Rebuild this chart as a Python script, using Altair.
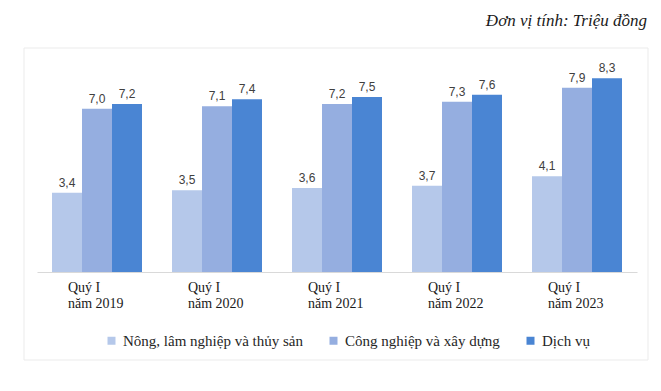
import altair as alt
import pandas as pd

periods = ["Quý I|năm 2019", "Quý I|năm 2020", "Quý I|năm 2021", "Quý I|năm 2022", "Quý I|năm 2023"]
series = ["Nông, lâm nghiệp và thủy sản", "Công nghiệp và xây dựng", "Dịch vụ"]
nong = [3.4, 3.5, 3.6, 3.7, 4.1]
cong = [7.0, 7.1, 7.2, 7.3, 7.9]
dichvu = [7.2, 7.4, 7.5, 7.6, 8.3]
unit_note = "Đơn vị tính: Triệu đồng"
colors = ["#b5c8ea", "#95aee0", "#4a85d3"]

SERIF = "Liberation Serif"

rows = []
for vals, s in zip([nong, cong, dichvu], series):
    for p, v in zip(periods, vals):
        rows.append({"period": p, "series": s, "value": v,
                     "label": f"{v:.1f}".replace(".", ",")})
df = pd.DataFrame(rows)
pdf = pd.DataFrame({"period": periods})

x = alt.X("period:N", sort=periods, title=None,
          scale=alt.Scale(paddingInner=0.25, paddingOuter=0.125),
          axis=alt.Axis(labels=False, ticks=False, domainColor="#d9d9d9"))
xo = alt.XOffset("series:N", sort=series, scale=alt.Scale(paddingInner=0, paddingOuter=0))
y = alt.Y("value:Q", scale=alt.Scale(domain=[0, 9]), axis=None)
color = alt.Color("series:N", sort=series,
                  scale=alt.Scale(domain=series, range=colors),
                  legend=alt.Legend(title=None, orient="none", direction="horizontal",
                                    legendX=67, legendY=271, symbolType="square",
                                    symbolSize=64, symbolStrokeWidth=0,
                                    labelFont=SERIF, labelFontSize=15,
                                    labelColor="#262626", labelOffset=4, labelLimit=0,
                                    columnPadding=23))

frame = alt.Chart(alt.Data(values=[{}])).mark_rect(
    fill="transparent", stroke="#ebebeb", strokeWidth=1
).encode(x=alt.value(-13), x2=alt.value(611), y=alt.value(-14), y2=alt.value(298))

note = alt.Chart(alt.Data(values=[{"t": unit_note}])).mark_text(
    align="right", baseline="alphabetic", font=SERIF, fontSize=17,
    fontStyle="italic", color="#1a1a1a"
).encode(x=alt.value(610), y=alt.value(-36), text="t:N")

bars = alt.Chart(df).mark_bar().encode(x=x, xOffset=xo, y=y, color=color)
labels = alt.Chart(df).mark_text(
    baseline="bottom", dy=-3, font="Liberation Sans", fontSize=12, color="#404040"
).encode(x=x, xOffset=xo, y=y, text="label:N")

cat_labels = alt.Chart(pdf).mark_text(
    align="left", baseline="top", dx=-29, lineBreak="|", lineHeight=16,
    font=SERIF, fontSize=14, color="#1a1a1a"
).encode(x=alt.X("period:N", sort=periods, bandPosition=0.5), y=alt.value(219), text="period:N")

chart = alt.layer(frame, note, bars, labels, cat_labels).properties(
    width=600, height=210,
    autosize=alt.AutoSizeParams(type="none"),
    padding={"left": 29, "top": 54, "right": 16, "bottom": 100},
).configure_view(stroke=None)

chart.save("out.html", embed_options={"renderer": "svg", "actions": False})
